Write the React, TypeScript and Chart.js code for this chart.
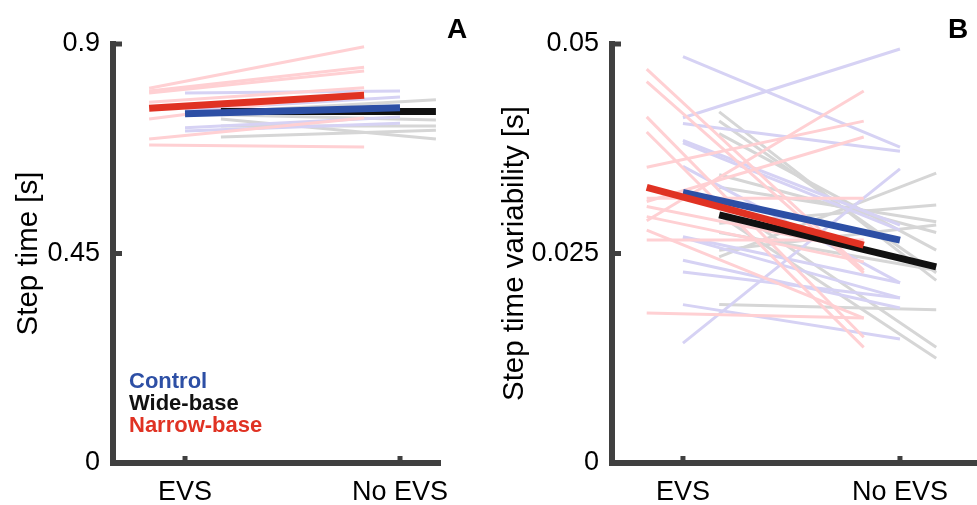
import React, { useEffect, useRef } from 'react';
import { Chart, registerables } from 'chart.js';

Chart.register(...registerables);

// ---------- categories / labels ----------
const CATEGORIES = ['EVS', 'No EVS'];
const GROUP_NAMES = ['Control', 'Wide-base', 'Narrow-base'];

// ---------- Panel A: step time [s] ----------
const A_TICKS = [0, 0.45, 0.9];
const A_CONTROL_EVS = [0.795, 0.758, 0.720, 0.713];
const A_CONTROL_NOEVS = [0.799, 0.786, 0.743, 0.730];
const A_WIDE_EVS = [0.754, 0.739, 0.724, 0.700, 0.748];
const A_WIDE_NOEVS = [0.780, 0.696, 0.724, 0.715, 0.737];
const A_NARROW_EVS = [0.805, 0.799, 0.795, 0.775, 0.739, 0.696, 0.683];
const A_NARROW_NOEVS = [0.894, 0.850, 0.842, 0.806, 0.797, 0.741, 0.679];
const A_MEAN_CONTROL = [0.750, 0.763];
const A_MEAN_WIDE = [0.755, 0.755];
const A_MEAN_NARROW = [0.762, 0.790];

// ---------- Panel B: step time variability [s] ----------
const B_TICKS = [0, 0.025, 0.05];
const B_CONTROL_EVS = [0.0485, 0.0412, 0.0405, 0.0385, 0.0382, 0.0354, 0.0270, 0.0269, 0.0242, 0.0228, 0.0189, 0.0143];
const B_CONTROL_NOEVS = [0.0377, 0.0494, 0.0372, 0.0284, 0.0278, 0.0215, 0.0215, 0.0197, 0.0185, 0.0197, 0.0148, 0.0351];
const B_WIDE_EVS = [0.0419, 0.0408, 0.0393, 0.0344, 0.0329, 0.0286, 0.0275, 0.0246, 0.0189, 0.0314, 0.0296, 0.0254];
const B_WIDE_NOEVS = [0.0218, 0.0227, 0.0254, 0.0275, 0.0288, 0.0308, 0.0230, 0.0346, 0.0183, 0.0138, 0.0125, 0.0284];
const B_NARROW_EVS = [0.0470, 0.0455, 0.0413, 0.0395, 0.0353, 0.0289, 0.0316, 0.0312, 0.0306, 0.0294, 0.0278, 0.0266, 0.0179];
const B_NARROW_NOEVS = [0.0230, 0.0227, 0.0150, 0.0138, 0.0408, 0.0444, 0.0316, 0.0389, 0.0254, 0.0240, 0.0173, 0.0266, 0.0173];
const B_MEAN_CONTROL = [0.0323, 0.0266];
const B_MEAN_WIDE = [0.0296, 0.0234];
const B_MEAN_NARROW = [0.0329, 0.0260];

// ---------- styles ----------
const AXIS_COLOR = '#404040';
const FONT = "'Liberation Sans', Arial, Helvetica, sans-serif";
const STRONG = { control: '#2D4FA5', wide: '#111111', narrow: '#E03223' };
const FAINT = { control: '#D6D2F4', wide: '#D6D6D6', narrow: '#FFD0D3' };
const OFFSET = { control: 0, wide: 0.167, narrow: -0.167 };

type GroupSpec = { key: 'control' | 'wide' | 'narrow'; evs: number[]; noevs: number[]; mean: number[] };

function buildDatasets(groups: GroupSpec[]) {
  const ds: any[] = [];
  groups.forEach((g) => {
    g.evs.forEach((v, i) => {
      ds.push({
        data: [
          { x: 1 + OFFSET[g.key], y: v },
          { x: 2 + OFFSET[g.key], y: g.noevs[i] },
        ],
        borderColor: FAINT[g.key],
        borderWidth: 3,
        pointRadius: 0,
        order: g.key === 'wide' ? 3 : g.key === 'control' ? 2 : 1,
      });
    });
  });
  const meanOrder = { narrow: -3, control: -2, wide: -1 };
  groups.forEach((g) => {
    ds.push({
      data: [
        { x: 1 + OFFSET[g.key], y: g.mean[0] },
        { x: 2 + OFFSET[g.key], y: g.mean[1] },
      ],
      borderColor: STRONG[g.key],
      borderWidth: 7,
      pointRadius: 0,
      order: meanOrder[g.key],
    });
  });
  return ds;
}

const inwardTicks = {
  id: 'inwardTicks',
  afterDraw(chart: any) {
    const { ctx, chartArea, scales } = chart;
    ctx.save();
    ctx.strokeStyle = AXIS_COLOR;
    ctx.lineWidth = 5;
    ctx.lineCap = 'butt';
    scales.y.ticks.forEach((t: any) => {
      const y = scales.y.getPixelForValue(t.value);
      ctx.beginPath();
      ctx.moveTo(chartArea.left, y);
      ctx.lineTo(chartArea.left + 9, y);
      ctx.stroke();
    });
    scales.x.ticks.forEach((t: any) => {
      const x = scales.x.getPixelForValue(t.value);
      ctx.beginPath();
      ctx.moveTo(x, chartArea.bottom);
      ctx.lineTo(x, chartArea.bottom - 7);
      ctx.stroke();
    });
    ctx.restore();
  },
};

type PanelProps = {
  left: number;
  width: number;
  yAxisWidth: number;
  rightPad: number;
  xMin: number;
  xMax: number;
  yMax: number;
  yTicks: number[];
  title: string;
  groups: GroupSpec[];
};

function Panel(p: PanelProps) {
  const ref = useRef<HTMLCanvasElement>(null);
  useEffect(() => {
    if (!ref.current) return;
    const chart = new Chart(ref.current, {
      type: 'line',
      data: { datasets: buildDatasets(p.groups) },
      options: {
        animation: false,
        responsive: false,
        events: [],
        layout: { padding: { top: 44, right: p.rightPad, left: 0, bottom: 0 } },
        plugins: { legend: { display: false }, tooltip: { enabled: false } },
        elements: { line: { tension: 0, borderCapStyle: 'butt' }, point: { radius: 0 } },
        scales: {
          x: {
            type: 'linear',
            min: p.xMin,
            max: p.xMax,
            afterFit: (s: any) => {
              s.height = 42;
            },
            afterBuildTicks: (s: any) => {
              s.ticks = CATEGORIES.map((_, i) => ({ value: i + 1 }));
            },
            ticks: {
              callback: (v: any) => CATEGORIES[Math.round(v) - 1] ?? '',
              font: { family: FONT, size: 27 },
              color: '#000',
              padding: 5,
              autoSkip: false,
              maxRotation: 0,
            },
            grid: { display: false },
            border: { display: true, width: 6, color: AXIS_COLOR },
          },
          y: {
            type: 'linear',
            min: 0,
            max: p.yMax,
            afterFit: (s: any) => {
              s.width = p.yAxisWidth;
            },
            afterBuildTicks: (s: any) => {
              s.ticks = p.yTicks.map((v) => ({ value: v }));
            },
            ticks: {
              callback: (v: any) => String(Number(Number(v).toPrecision(6))),
              font: { family: FONT, size: 27 },
              color: '#000',
              padding: 5,
            },
            title: {
              display: true,
              text: p.title,
              font: { family: FONT, size: 29.5 },
              color: '#000',
              padding: { top: 11, bottom: 0 },
            },
            grid: { display: false },
            border: { display: true, width: 6, color: AXIS_COLOR },
          },
        },
      } as any,
      plugins: [inwardTicks],
    });
    return () => chart.destroy();
  }, []);
  return (
    <canvas
      ref={ref}
      width={p.width}
      height={505}
      style={{ position: 'absolute', left: p.left, top: 0, width: p.width, height: 505 }}
    />
  );
}

const legendColors = [STRONG.control, STRONG.wide, STRONG.narrow];

export default function App() {
  return (
    <div style={{ position: 'fixed', left: 0, top: 0, width: 977, height: 505, background: '#fff', overflow: 'hidden' }}>
      <Panel
        left={0}
        width={490}
        yAxisWidth={113}
        rightPad={50}
        xMin={0.665}
        xMax={2.186}
        yMax={0.9}
        yTicks={A_TICKS}
        title="Step time [s]"
        groups={[
          { key: 'control', evs: A_CONTROL_EVS, noevs: A_CONTROL_NOEVS, mean: A_MEAN_CONTROL },
          { key: 'wide', evs: A_WIDE_EVS, noevs: A_WIDE_NOEVS, mean: A_MEAN_WIDE },
          { key: 'narrow', evs: A_NARROW_EVS, noevs: A_NARROW_NOEVS, mean: A_MEAN_NARROW },
        ]}
      />
      <Panel
        left={486}
        width={491}
        yAxisWidth={126}
        rightPad={0}
        xMin={0.673}
        xMax={2.355}
        yMax={0.05}
        yTicks={B_TICKS}
        title="Step time variability [s]"
        groups={[
          { key: 'control', evs: B_CONTROL_EVS, noevs: B_CONTROL_NOEVS, mean: B_MEAN_CONTROL },
          { key: 'wide', evs: B_WIDE_EVS, noevs: B_WIDE_NOEVS, mean: B_MEAN_WIDE },
          { key: 'narrow', evs: B_NARROW_EVS, noevs: B_NARROW_NOEVS, mean: B_MEAN_NARROW },
        ]}
      />
      <div style={{ position: 'absolute', left: 129, top: 370, fontFamily: FONT, fontWeight: 'bold', fontSize: 22, lineHeight: '22px' }}>
        {GROUP_NAMES.map((n, i) => (
          <div key={n} style={{ color: legendColors[i], whiteSpace: 'nowrap' }}>{n}</div>
        ))}
      </div>
      <div style={{ position: 'absolute', left: 447, top: 15, fontFamily: FONT, fontWeight: 'bold', fontSize: 28, lineHeight: '28px', color: '#000' }}>A</div>
      <div style={{ position: 'absolute', left: 948, top: 15, fontFamily: FONT, fontWeight: 'bold', fontSize: 28, lineHeight: '28px', color: '#000' }}>B</div>
    </div>
  );
}
